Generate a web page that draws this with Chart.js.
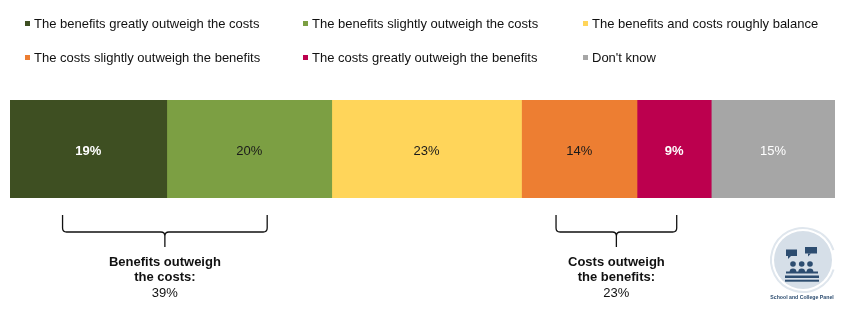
<!DOCTYPE html>
<html><head><meta charset="utf-8">
<script src="https://cdn.jsdelivr.net/npm/chart.js@4/dist/chart.umd.min.js"></script>
<style>html,body{margin:0;padding:0;background:#fff}#wrap{width:846px;height:318px}</style>
</head><body><div id="wrap"><canvas id="c" width="846" height="318"></canvas></div>
<script>
const categories = ['All respondents'];
const seriesLabels = [
  'The benefits greatly outweigh the costs',
  'The benefits slightly outweigh the costs',
  'The benefits and costs roughly balance',
  'The costs slightly outweigh the benefits',
  'The costs greatly outweigh the benefits',
  "Don't know"
];
const seriesValues = [19, 20, 23, 14, 9, 15];
const seriesColors = ['#3e4f22', '#7c9f43', '#ffd55a', '#ed7e32', '#bc004e', '#a6a6a6'];
const labelColors = ['#ffffff', '#1a1a1a', '#1a1a1a', '#1a1a1a', '#ffffff', '#ffffff'];
const labelBold = [true, false, false, false, true, false];
const groupMembers = [[0, 1], [3, 4]];
const groupTitles = [['Benefits outweigh', 'the costs:'], ['Costs outweigh', 'the benefits:']];

const FONT = "'Liberation Sans', Arial, sans-serif";

const overlay = {
  id: 'overlay',
  afterDraw(chart) {
    const ctx = chart.ctx;
    const xs = chart.scales.x;
    ctx.save();
    // legend
    const colX = [25, 303, 583];
    const rowY = [23.5, 57.5];
    ctx.font = '13px ' + FONT;
    ctx.textBaseline = 'middle';
    ctx.textAlign = 'left';
    chart.data.datasets.forEach((ds, i) => {
      const cx = colX[i % 3], cy = rowY[Math.floor(i / 3)];
      ctx.fillStyle = ds.backgroundColor;
      ctx.fillRect(cx, cy - 2.5, 5, 5);
      ctx.fillStyle = '#111';
      ctx.fillText(ds.label, cx + 9, cy + 0.5);
    });
    // value labels
    ctx.textAlign = 'center';
    chart.data.datasets.forEach((ds, i) => {
      const el = chart.getDatasetMeta(i).data[0];
      const cx = (el.x + el.base) / 2;
      ctx.font = (labelBold[i] ? 'bold ' : '') + '13px ' + FONT;
      ctx.fillStyle = labelColors[i];
      ctx.fillText(ds.data[0] + '%', cx, el.y + 2);
    });
    // braces
    const yTop = 215, yMid = 232, yTip = 247;
    groupMembers.forEach((members, g) => {
      let start = 0;
      for (let k = 0; k < members[0]; k++) start += seriesValues[k];
      let total = 0;
      members.forEach(m => total += seriesValues[m]);
      const p1 = xs.getPixelForValue(start), p2 = xs.getPixelForValue(start + total);
      const xc = (p1 + p2) / 2 - (g === 0 ? 6 : 0);
      const half = (p2 - p1) * 0.318;
      const x1 = xc - half, x2 = xc + half, r = 4;
      ctx.strokeStyle = '#111';
      ctx.lineWidth = 1.3;
      ctx.beginPath();
      ctx.moveTo(x1, yTop);
      ctx.lineTo(x1, yMid - r);
      ctx.quadraticCurveTo(x1, yMid, x1 + r, yMid);
      ctx.lineTo(xc - r, yMid);
      ctx.quadraticCurveTo(xc, yMid, xc, yMid + r);
      ctx.lineTo(xc, yTip);
      ctx.moveTo(x2, yTop);
      ctx.lineTo(x2, yMid - r);
      ctx.quadraticCurveTo(x2, yMid, x2 - r, yMid);
      ctx.lineTo(xc + r, yMid);
      ctx.quadraticCurveTo(xc, yMid, xc, yMid + r);
      ctx.stroke();
      ctx.fillStyle = '#111';
      ctx.font = 'bold 13px ' + FONT;
      ctx.fillText(groupTitles[g][0], xc, 262);
      ctx.fillText(groupTitles[g][1], xc, 277.5);
      ctx.font = '13px ' + FONT;
      ctx.fillText(total + '%', xc, 293);
    });
    // logo
    const lx = 803, ly = 260;
    ctx.strokeStyle = '#dfe6ed';
    ctx.lineWidth = 2;
    ctx.beginPath(); ctx.arc(lx, ly, 32, 0.3, Math.PI * 1.9); ctx.stroke();
    ctx.fillStyle = '#d6dfe8';
    ctx.beginPath(); ctx.arc(lx, ly, 29, 0, Math.PI * 2); ctx.fill();
    const dark = '#2d4d70';
    ctx.fillStyle = dark;
    // speech bubbles
    ctx.fillRect(786, 249.5, 11, 6.5);
    ctx.beginPath(); ctx.moveTo(788, 256); ctx.lineTo(791, 256); ctx.lineTo(788, 259); ctx.fill();
    ctx.fillRect(805, 247, 12, 6.5);
    ctx.beginPath(); ctx.moveTo(808, 253.5); ctx.lineTo(811, 253.5); ctx.lineTo(808, 256.5); ctx.fill();
    // heads
    [793, 801.7, 810].forEach(hx => {
      ctx.beginPath(); ctx.arc(hx, 264, 2.8, 0, Math.PI * 2); ctx.fill();
      ctx.beginPath(); ctx.arc(hx, 272, 3.4, Math.PI, 0); ctx.fill();
    });
    ctx.fillRect(786, 271.5, 32, 2);
    ctx.fillRect(785, 275.5, 34, 2.5);
    ctx.fillRect(785, 279.7, 34, 2);
    ctx.font = 'bold 5.2px ' + FONT;
    ctx.textAlign = 'center';
    ctx.fillText('School and College Panel', 802, 298);
    ctx.restore();
  }
};

new Chart(document.getElementById('c'), {
  type: 'bar',
  data: {
    labels: categories,
    datasets: seriesLabels.map((lab, i) => ({
      label: lab,
      data: [seriesValues[i]],
      backgroundColor: seriesColors[i],
      borderWidth: 0,
      barPercentage: 1,
      categoryPercentage: 1
    }))
  },
  options: {
    indexAxis: 'y',
    responsive: false,
    animation: false,
    devicePixelRatio: 1,
    layout: { padding: { left: 10, right: 11, top: 100, bottom: 120 } },
    scales: {
      x: { stacked: true, display: false, min: 0, max: 100 },
      y: { stacked: true, display: false }
    },
    plugins: { legend: { display: false }, tooltip: { enabled: false } }
  },
  plugins: [overlay]
});
</script></body></html>
